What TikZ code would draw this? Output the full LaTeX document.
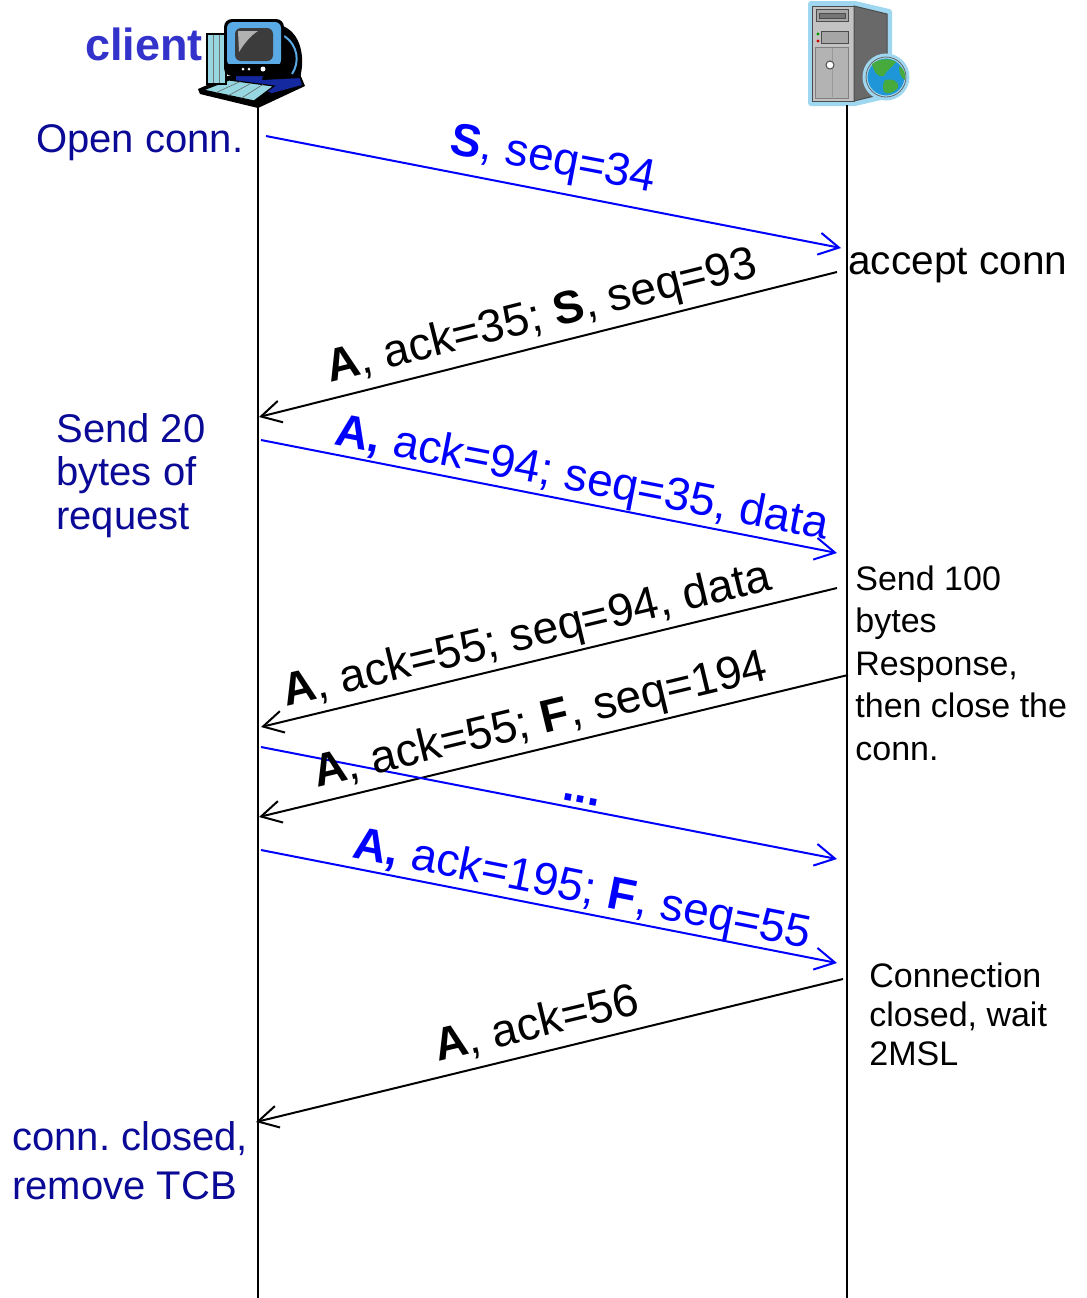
\documentclass[tikz,border=0pt]{standalone}
\usepackage{fontspec}
\setmainfont{Liberation Sans}
\usetikzlibrary{arrows.meta,calc}
\frenchspacing
\definecolor{msgblue}{RGB}{0,0,255}
\definecolor{notenavy}{RGB}{10,10,150}
\definecolor{clientblue}{RGB}{51,51,204}
\definecolor{pccyan}{RGB}{150,215,225}
\definecolor{pcbezel}{RGB}{90,170,230}
\definecolor{pcscreen}{RGB}{60,60,60}
\definecolor{pcbase}{RGB}{20,40,160}
\definecolor{srvglow}{RGB}{160,215,240}
\definecolor{srvfront}{RGB}{195,195,195}
\definecolor{srvside}{RGB}{105,105,105}
\definecolor{globesea}{RGB}{30,150,215}
\definecolor{globeland}{RGB}{70,170,60}

\begin{document}
\begin{tikzpicture}[x=0.5pt,y=-0.5pt,
  lifeline/.style={line width=1.2pt},
  msg/.style={line width=1pt,-{Straight Barb[length=10pt,width=11pt,line width=1pt]}},
  tocli/.style={msg,black},
  tosrv/.style={msg,msgblue},
  lbl/.style={font=\fontsize{23}{27}\selectfont,inner sep=0pt,anchor=base west},
  leftnote/.style={font=\fontsize{20}{21.75}\selectfont,text=notenavy,inner sep=0pt,anchor=base west,align=left},
  rightnote/.style={font=\fontsize{17}{21.25}\selectfont,inner sep=0pt,anchor=base west,align=left},
  outl/.style={draw=black,line width=0.6pt}
]
\useasboundingbox (0,0) rectangle (1087,1298);

% ---------- client computer ----------
% base plate and keyboard
\fill[black] (198,89) -- (228,76) -- (300,74) -- (305,86) -- (258,108) -- (200,94) -- cycle;
\fill[pcbase] (236,71) -- (299,76) -- (302,85) -- (272,93) -- (236,82) -- cycle;
\filldraw[fill=pccyan,outl] (203,90) -- (229,80) -- (274,86) -- (254,101) -- cycle;
\foreach \t in {0.25,0.5,0.75}
  \draw[black!60,line width=0.3pt] ($(203,90)!\t!(254,101)$) -- ($(229,80)!\t!(274,86)$);
% tower
\filldraw[fill=pccyan,outl] (207,34) rectangle (226,84);
\draw[black!55,line width=0.4pt] (213,35) -- (213,83) (219,35) -- (219,83);
% monitor back
\fill[black] (276,24) .. controls (300,28) and (306,55) .. (300,78) -- (262,80) -- (276,24);
\draw[pcbezel,line width=1pt] (284,36) .. controls (298,45) and (300,62) .. (292,74);
% monitor front
\fill[black,rounded corners=4pt] (224,19) rectangle (284,76);
\fill[pcbezel,rounded corners=3pt] (227,22) rectangle (281,66);
\fill[pcscreen,rounded corners=3pt] (235,28) rectangle (273,61);
\fill[white!60!pcscreen] (238,31) -- (258,31) .. controls (250,36) and (244,44) .. (239,52) -- cycle;
\fill[black] (227,64) rectangle (281,74);
\fill[white] (243,69) circle (1.5) (249,69) circle (1.5) (263,69) circle (2.5);

% ---------- server ----------
\filldraw[fill=srvfront,draw=srvglow,line width=3pt,line join=round]
  (811,4) -- (855,4) -- (889,12) -- (889,95) -- (855,103) -- (811,103) -- cycle;
\filldraw[fill=srvfront,draw=black!70,line width=0.5pt] (812,6) rectangle (854,101);
\filldraw[fill=srvside,draw=black!70,line width=0.5pt] (854,6) -- (887,14) -- (887,93) -- (854,101) -- cycle;
\filldraw[fill=srvfront!85!black,draw=black!70,line width=0.4pt] (816,9) rectangle (848,21);
\filldraw[fill=srvfront!60!black,draw=black!70,line width=0.4pt] (819,13) rectangle (845,18);
\filldraw[fill=srvfront!85!black,draw=black!70,line width=0.4pt] (821,31) rectangle (848,43);
\fill[green!60!black] (818,34) circle (1.6);
\fill[red!80!black] (818,41) circle (1.6);
\filldraw[fill=srvfront!92!black,draw=black!50,line width=0.4pt] (815,47) rectangle (848,98);
\draw[black!40,line width=0.4pt] (832,48) -- (832,97);
\filldraw[fill=white,draw=black!70,line width=0.5pt] (830,65) circle (4);
% globe
\filldraw[fill=globesea,draw=srvglow,line width=2.5pt] (886,77) circle (21);
\draw[black!60,line width=0.4pt] (886,77) circle (20);
\fill[globeland] (872,64) .. controls (880,58) and (890,58) .. (896,62)
  .. controls (892,68) and (886,70) .. (884,76) .. controls (878,78) and (874,72) .. (872,64) -- cycle;
\fill[globeland] (885,80) .. controls (893,78) and (900,82) .. (898,88)
  .. controls (893,93) and (888,95) .. (884,92) .. controls (882,88) and (883,83) .. (885,80) -- cycle;
\fill[globeland] (899,66) .. controls (904,68) and (906,74) .. (905,80) .. controls (901,78) and (899,72) .. (899,66) -- cycle;

% ---------- lifelines ----------
\coordinate (ctop) at (258,105);
\coordinate (cbot) at (258,1298);
\coordinate (stop) at (847,105);
\coordinate (sbot) at (847,1298);
\draw[lifeline] (ctop) -- (cbot);
\draw[lifeline] (stop) -- (sbot);

% ---------- message end points ----------
\coordinate (m1a) at (266,136);   \coordinate (m1b) at (841,248);
\coordinate (m2a) at (837,272);   \coordinate (m2b) at (259,417);
\coordinate (m3a) at (261,440);   \coordinate (m3b) at (837,553);
\coordinate (m4a) at (837,588);   \coordinate (m4b) at (261,727);
\coordinate (m5a) at (848,675);   \coordinate (m5b) at (259,817);
\coordinate (m6a) at (261,747);   \coordinate (m6b) at (837,859);
\coordinate (m7a) at (261,850);   \coordinate (m7b) at (837,963);
\coordinate (m8a) at (843,979);   \coordinate (m8b) at (256,1122);

\draw[tosrv] (m1a) -- (m1b);
\draw[tocli] (m2a) -- (m2b);
\draw[tosrv] (m3a) -- (m3b);
\draw[tocli] (m4a) -- (m4b);
\draw[tocli] (m5a) -- (m5b);
\draw[tosrv] (m6a) -- (m6b);
\draw[tosrv] (m7a) -- (m7b);
\draw[tocli] (m8a) -- (m8b);

% ---------- message labels ----------
\node[lbl,text=msgblue,rotate=-10.8] (l1) at (448,153) {\textbf{S}, seq=34};
\node[lbl,rotate=14] (l2) at (330,383) {\textbf{A}, ack=35; \textbf{S}, seq=93};
\node[lbl,text=msgblue,rotate=-11] (l3) at (333,444) {\textbf{A,} ack=94; seq=35, data};
\node[lbl,rotate=13.5] (l4) at (286,707) {\textbf{A}, ack=55; seq=94, data};
\node[lbl,rotate=13.5] (l5) at (317,788) {\textbf{A}, ack=55; \textbf{F}, seq=194};
\node[lbl,text=msgblue,rotate=-11,anchor=base] (l6) at (580,803) {\textbf{...}};
\node[lbl,text=msgblue,rotate=-11.3] (l7) at (351,857) {\textbf{A,} ack=195; \textbf{F}, seq=55};
\node[lbl,rotate=13.5] (l8) at (438,1062) {\textbf{A}, ack=56};

% ---------- side notes (anchored at the baseline of their last line) ----------
\node[font=\fontsize{22.5}{27}\selectfont\bfseries,text=clientblue,inner sep=0pt,anchor=base west] (client) at (85,60) {client};
\node[leftnote] (open) at (36,152) {Open conn.};
\node[leftnote] (send20) at (56,529) {Send 20\\bytes of\\request};
\node[leftnote,font=\fontsize{20}{24.5}\selectfont] (closed) at (12,1199) {conn. closed,\\remove TCB};
\node[font=\fontsize{20.3}{24}\selectfont,inner sep=0pt,anchor=base west] (accept) at (848,274) {accept conn};
\node[rightnote] (send100) at (855,760) {Send 100\\bytes\\Response,\\then close the\\conn.};
\node[rightnote,font=\fontsize{17}{19.5}\selectfont] (wait) at (869,1065) {Connection\\closed, wait\\2MSL};
\end{tikzpicture}
\end{document}
